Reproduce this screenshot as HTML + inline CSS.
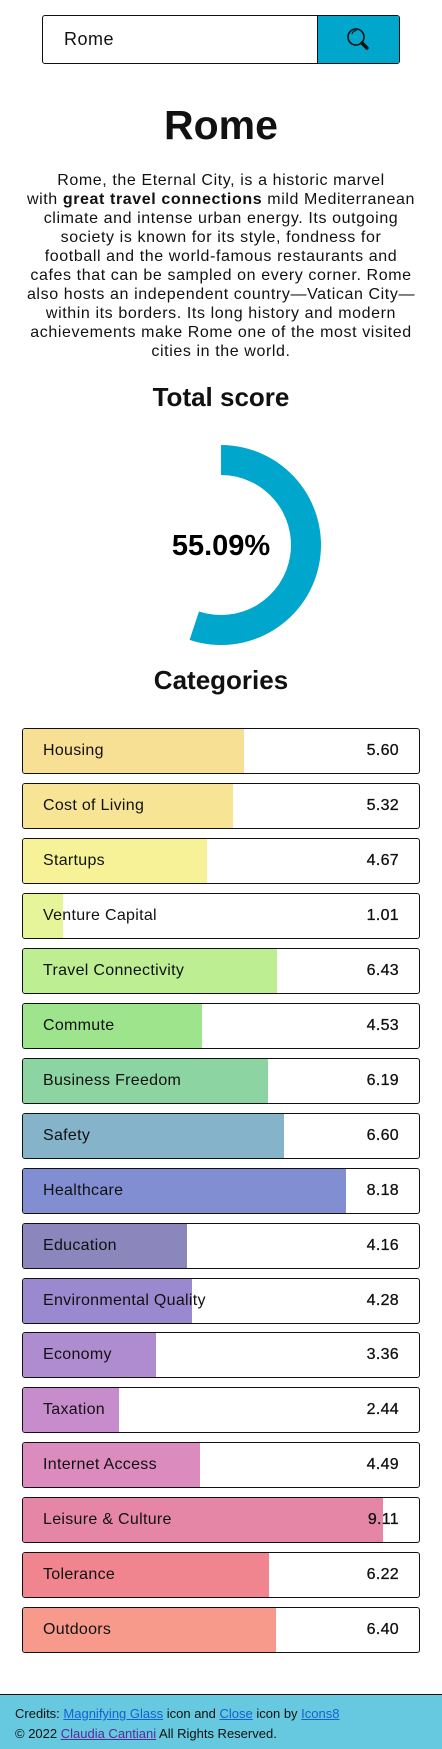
<!DOCTYPE html>
<html><head><meta charset="utf-8">
<style>
*{box-sizing:border-box;margin:0;padding:0}
body{width:442px;height:1749px;background:#fff;font-family:"Liberation Sans",sans-serif;color:#111;position:relative;overflow:hidden}
.search{position:absolute;left:42px;top:15px;width:358px;height:49px;border:1.5px solid #111;border-radius:3px;overflow:hidden}
.search .txt{position:absolute;left:21px;top:13px;font-size:18px;letter-spacing:0.5px}
.search .btn{position:absolute;right:0;top:0;width:82px;height:100%;background:#00a6cc;border-left:1.5px solid #111}
h1{position:absolute;top:102px;width:442px;text-align:center;font-size:41px;font-weight:bold}
.desc{position:absolute;top:171px;left:0;width:442px;text-align:center;font-size:16px;line-height:19px;letter-spacing:0.6px}
.desc div{white-space:nowrap}
h2{position:absolute;width:442px;text-align:center;font-size:26px;font-weight:bold}
.bar{position:absolute;left:22px;width:398px;height:46px;border:1.5px solid #111;border-radius:3px;overflow:hidden;background:#fff}
.bar .fill{position:absolute;left:0;top:0;height:100%}
.bar .lbl{position:absolute;left:20px;top:13px;font-size:16px;letter-spacing:0.3px}
.bar .val{position:absolute;right:20px;top:13px;font-size:16px;letter-spacing:0.3px;-webkit-text-stroke:0.3px #111}
footer{position:absolute;left:0;top:1694px;width:442px;height:55px;background:#66c9e0;border-top:1.5px solid #111;font-size:13px;padding:9px 15px;line-height:20px}
footer a{color:#1a5fd0}
footer a.v{color:#5a2a9a}
</style></head><body>
<div class="search">
  <div class="txt">Rome</div>
  <div class="btn">
    <svg width="82" height="46"><circle cx="38" cy="21" r="8" fill="none" stroke="#111" stroke-width="1.6"/><path d="M34 18 a4.5 4.5 0 0 1 4.5-3.5" fill="none" stroke="#111" stroke-width="1.2"/><line x1="44" y1="27" x2="49" y2="32" stroke="#111" stroke-width="3.5" stroke-linecap="round"/></svg>
  </div>
</div>
<h1>Rome</h1>
<div class="desc">
<div>Rome, the Eternal City, is a historic marvel</div>
<div>with <b>great travel connections</b> mild Mediterranean</div>
<div>climate and intense urban energy. Its outgoing</div>
<div>society is known for its style, fondness for</div>
<div>football and the world-famous restaurants and</div>
<div>cafes that can be sampled on every corner. Rome</div>
<div>also hosts an independent country—Vatican City—</div>
<div>within its borders. Its long history and modern</div>
<div>achievements make Rome one of the most visited</div>
<div>cities in the world.</div>
</div>
<h2 style="top:382px">Total score</h2>
<svg id="donut" style="position:absolute;left:0;top:430px" width="442" height="230"></svg>
<h2 style="top:665px">Categories</h2>
<div id="bars"></div>
<footer>
<div>Credits: <a href="#">Magnifying Glass</a> icon and <a href="#">Close</a> icon by <a href="#">Icons8</a></div>
<div>© 2022 <a class="v" href="#">Claudia Cantiani</a> All Rights Reserved.</div>
</footer>
<script>
const totalScore = 55.09;
const categories = ["Housing","Cost of Living","Startups","Venture Capital","Travel Connectivity","Commute","Business Freedom","Safety","Healthcare","Education","Environmental Quality","Economy","Taxation","Internet Access","Leisure & Culture","Tolerance","Outdoors"];
const scores = [5.60,5.32,4.67,1.01,6.43,4.53,6.19,6.60,8.18,4.16,4.28,3.36,2.44,4.49,9.11,6.22,6.40];
const colors = ["#f7df94","#f7e494","#f7f297","#e6f59a","#bdee91","#9de48c","#8cd5a3","#84b3ca","#818fd2","#8b86bb","#9b89cf","#ae8ccf","#c78ccc","#db8bbe","#e686a6","#f08590","#f79a8c"];
const maxScore = 10;

const svg = document.getElementById('donut');
const NS = "http://www.w3.org/2000/svg";
const cx = 221, cy = 115, R = 100, r = 70;
const a = totalScore/100*2*Math.PI;
function pt(rad, ang){return [cx + rad*Math.sin(ang), cy - rad*Math.cos(ang)];}
const large = a > Math.PI ? 1 : 0;
const p1 = pt(R,0), p2 = pt(R,a), p3 = pt(r,a), p4 = pt(r,0);
const path = document.createElementNS(NS,'path');
path.setAttribute('d',`M${p1} A${R} ${R} 0 ${large} 1 ${p2} L${p3} A${r} ${r} 0 ${large} 0 ${p4} Z`);
path.setAttribute('fill','#00a6cc');


svg.appendChild(path);
const t = document.createElementNS(NS,'text');
t.setAttribute('x',cx); t.setAttribute('y',cy+10);
t.setAttribute('text-anchor','middle');
t.setAttribute('font-size','29'); t.setAttribute('font-weight','bold');
t.setAttribute('font-family','Liberation Sans, sans-serif');
t.textContent = totalScore.toFixed(2) + '%';


svg.appendChild(t);

const wrap = document.getElementById('bars');
const innerW = 395, top0 = 728, step = 54.95;
categories.forEach((c,i)=>{
  const b = document.createElement('div');
  b.className = 'bar';
  b.style.top = (top0 + i*step) + 'px';
  
  
  const f = document.createElement('div');
  f.className = 'fill';
  f.style.width = (scores[i]/maxScore*innerW) + 'px';
  f.style.background = colors[i];
  
  
  const l = document.createElement('div');
  l.className = 'lbl'; l.textContent = c;
  
  
  const v = document.createElement('div');
  v.className = 'val'; v.textContent = scores[i].toFixed(2);
  
  
  b.appendChild(f); b.appendChild(l); b.appendChild(v);
  wrap.appendChild(b);
});
</script>
</body></html>
